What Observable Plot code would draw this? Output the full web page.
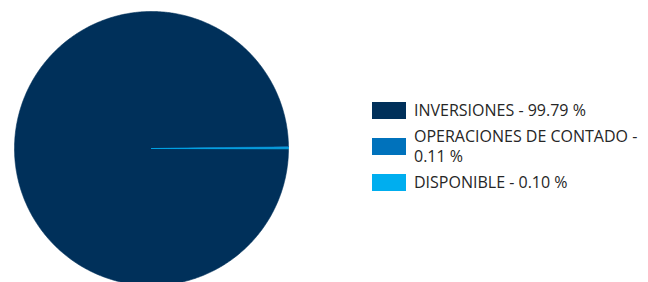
<!DOCTYPE html>
<html>
<head>
<meta charset="utf-8">
<script src="https://cdn.jsdelivr.net/npm/d3@7"></script>
<script src="https://cdn.jsdelivr.net/npm/@observablehq/plot@0.6"></script>
<style>
  html, body { margin: 0; padding: 0; background: #fff; overflow: hidden; }
  #wrap { position: relative; width: 648px; height: 282px; }
  #chart { position: absolute; left: 0; top: 0; }
  #legend { position: absolute; left: 372px; top: 100px; display: flex; flex-direction: column; gap: 6px;
            font-family: "Open Sans", sans-serif; font-size: 16px; line-height: 20px; color: #262626; }
  .row { display: flex; align-items: center; }
  .sw { width: 34px; height: 17px; flex: none; margin-right: 8px; }
  .lab { width: 232px; }
</style>
</head>
<body>
<div id="wrap"><div id="chart"></div><div id="legend"></div></div>
<script>
const names = ["INVERSIONES", "OPERACIONES DE CONTADO", "DISPONIBLE"];
const values = [99.79, 0.11, 0.10];
const colors = ["#00305a", "#0072bc", "#00aeef"];

const pieData = names.map((n, i) => ({name: n, value: values[i]}));
const arcs = d3.pie().sort(null).value(d => d.value)
  .startAngle(Math.PI / 2).endAngle(Math.PI / 2 + 2 * Math.PI)(pieData);

const rows = [];
arcs.forEach(a => {
  const name = a.data.name;
  rows.push({name, x: 0, y: 0});
  const n = Math.max(2, Math.ceil((a.endAngle - a.startAngle) / (Math.PI / 360)));
  for (let k = 0; k <= n; k++) {
    const t = a.startAngle + (a.endAngle - a.startAngle) * k / n;
    rows.push({name, x: Math.sin(t), y: Math.cos(t)});
  }
});

const plot = Plot.plot({
  width: 648,
  height: 282,
  margin: 0,
  x: {domain: [-1, 1], range: [14, 288], axis: null},
  y: {domain: [-1, 1], range: [285, 11], axis: null},
  color: {domain: names, range: colors},
  marks: [
    Plot.line(rows, {x: "x", y: "y", z: "name", fill: "name", stroke: "name", strokeWidth: 0.6, curve: "linear-closed"})
  ]
});
document.getElementById("chart").appendChild(plot);

const legend = document.getElementById("legend");
names.forEach((n, i) => {
  const row = document.createElement("div");
  row.className = "row";
  const sw = document.createElement("div");
  sw.className = "sw";
  sw.style.background = colors[i];
  const lab = document.createElement("div");
  lab.className = "lab";
  lab.textContent = n + " - " + values[i].toFixed(2) + " %";
  row.appendChild(sw);
  row.appendChild(lab);
  legend.appendChild(row);
});
</script>
</body>
</html>
